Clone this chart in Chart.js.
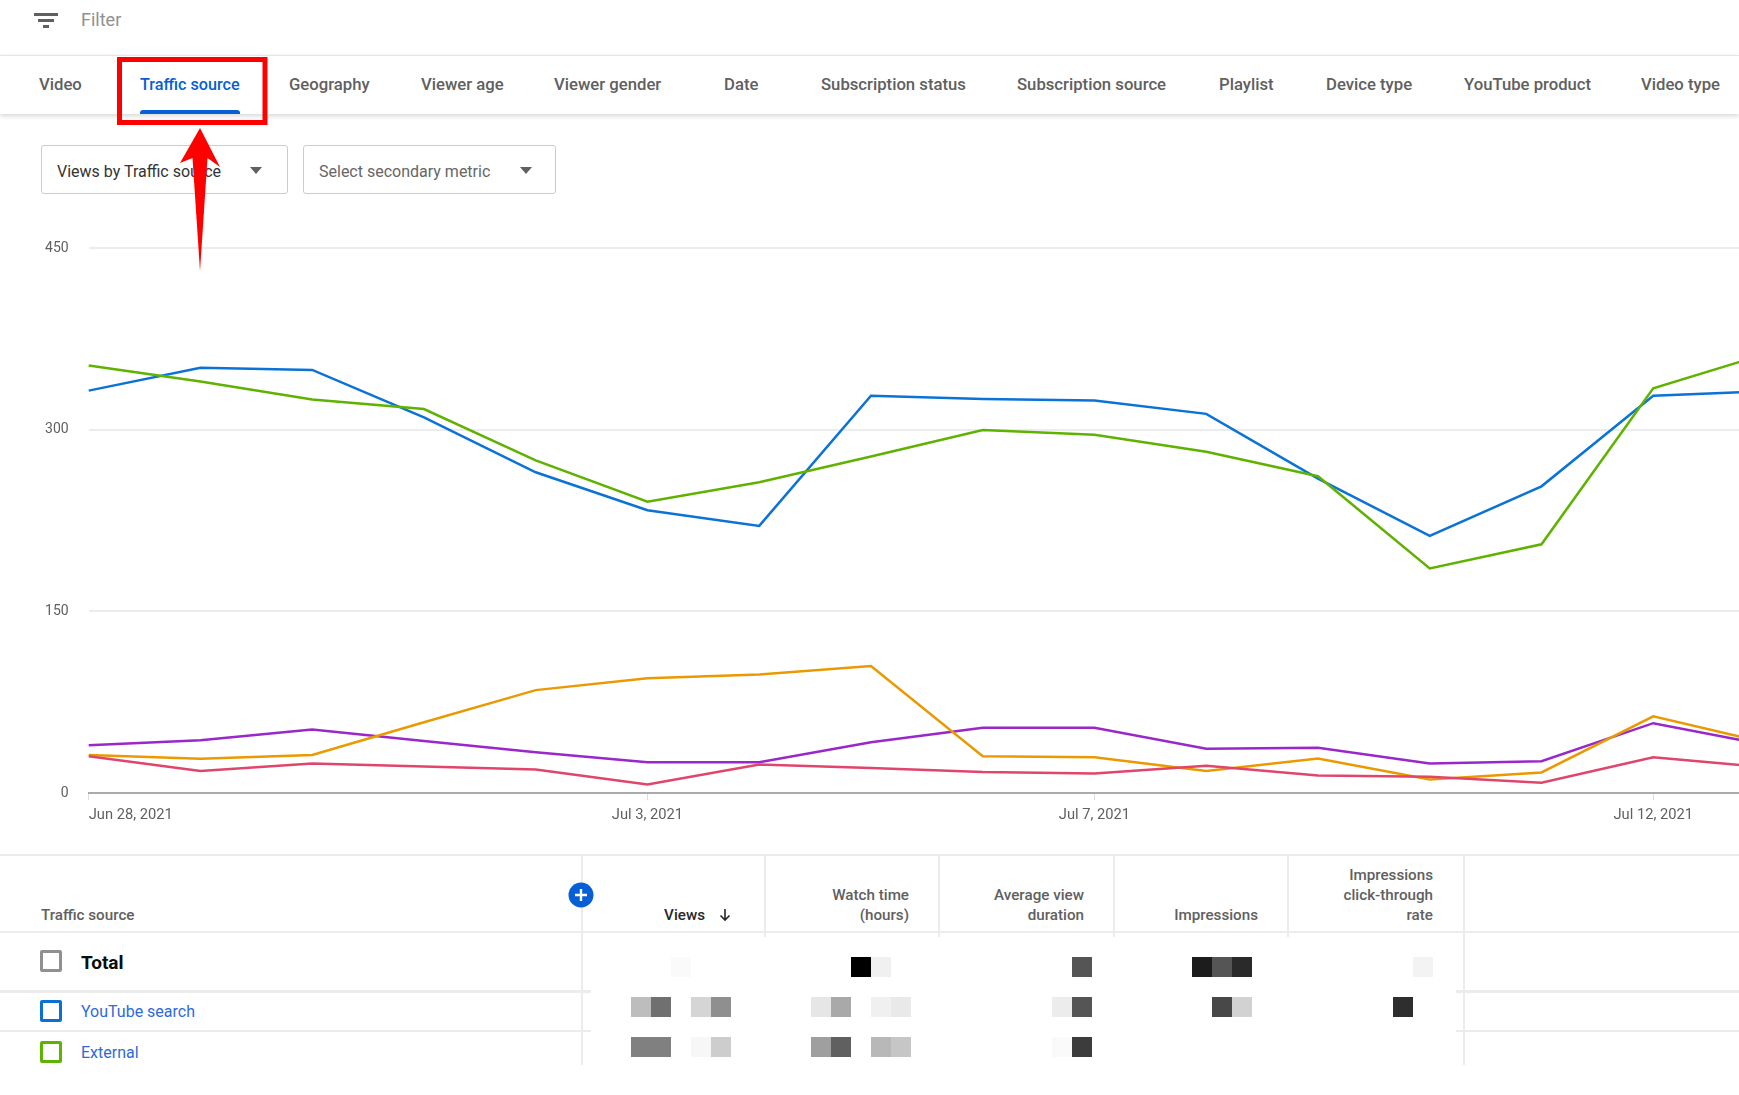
<!DOCTYPE html>
<html>
<head>
<meta charset="utf-8">
<title>Views by Traffic source</title>
<script src="https://cdn.jsdelivr.net/npm/chart.js@4"></script>
<style>
html, body { margin: 0; padding: 0; background: #fff; }
body { position: relative; width: 1739px; height: 1095px; overflow: hidden; font-family: Roboto, sans-serif; }
.abs { position: absolute; white-space: nowrap; }
.mid { transform: translateY(-50%); line-height: 20px; }
.tab { top: 85px; font-size: 16.7px; font-weight: 500; color: #606060; }
.tab.active { color: #065fd4; font-size: 16.2px; }
.select { left: 0; top: 145px; height: 47px; border: 1px solid #ccc; border-radius: 3px; box-sizing: content-box; }
.tri { width: 0; height: 0; border-left: 6px solid transparent; border-right: 6px solid transparent; border-top: 7px solid #606060; top: 167px; }
.hline { background: #ececec; height: 2px; }
.vline { background: #ececec; width: 2px; }
.head { font-size: 15.2px; font-weight: 500; color: #606060; text-align: right; }
.check { width: 22px; height: 22px; box-sizing: border-box; border: 3px solid #909090; border-radius: 2px; left: 40px; }
.link { left: 81px; font-size: 16px; color: #2e6ad9; }
.px { width: 20px; height: 20px; }
</style>
</head>
<body>

<div id="top"></div>

<div class="abs" style="left:0;top:0;width:1739px;height:220px" id="controls"></div>

<div class="abs" style="left:0;top:220px;width:1772px;height:613px">
    <canvas id="trafficChart" width="1772" height="613"></canvas>
</div>

<div id="table"></div>

<svg class="abs" style="left:0;top:0;pointer-events:none" width="400" height="290">
    <rect x="119.5" y="59.5" width="145.5" height="63" fill="none" stroke="#ff0000" stroke-width="5"/>
    <polygon points="200,128 220,167 207.5,158 200,271 192.5,158 180,163" fill="#ff0000"/>
</svg>

<script>
// Donnees du graphique
const categories = ['Jun 28, 2021', 'Jun 29, 2021', 'Jun 30, 2021', 'Jul 1, 2021', 'Jul 2, 2021', 'Jul 3, 2021', 'Jul 4, 2021', 'Jul 5, 2021',
    'Jul 6, 2021', 'Jul 7, 2021', 'Jul 8, 2021', 'Jul 9, 2021', 'Jul 10, 2021', 'Jul 11, 2021', 'Jul 12, 2021', 'Jul 13, 2021'];
const shownDates = ['Jun 28, 2021', 'Jul 3, 2021', 'Jul 7, 2021', 'Jul 12, 2021'];
const yTicks = [0, 150, 300, 450];

const youtubeSearch = [332.5, 351.4, 349.6, 310.3, 265, 233.7, 220.7, 328.2, 325.5, 324.4, 313.3, 259.7, 212.5, 253.4, 328.2, 332];
const external = [353.3, 340, 325.2, 317.3, 274.8, 240.7, 256.7, 278, 300, 296, 282, 261.8, 185.5, 205.5, 334.4, 362.6];
const sourceOrange = [31.4, 28.4, 31.4, 58.5, 85, 94.8, 98, 105, 30.3, 29.5, 18.1, 28.4, 11.1, 17, 63.4, 41.7];
const sourcePurple = [39.5, 43.6, 52.5, 43, 33.6, 25.5, 25.5, 42, 54, 54, 36.5, 37.4, 24.4, 26.3, 57.7, 39.8];
const sourcePink = [30.3, 18.1, 24.4, 21.9, 19.5, 7, 23.6, 20.6, 17.3, 16.2, 22.5, 14.4, 13.5, 8.4, 29.5, 21.3];

const tabLabels = ['Video', 'Traffic source', 'Geography', 'Viewer age', 'Viewer gender', 'Date', 'Subscription status',
    'Subscription source', 'Playlist', 'Device type', 'YouTube product', 'Video type'];
const tabLefts = [39, 140, 289, 421, 554, 724, 821, 1017, 1219, 1326, 1464, 1641];

function add(parent, className, style, text) {
    const el = document.createElement('div');
    el.className = className;
    el.style.cssText = style;
    if (text !== undefined) el.innerHTML = text;
    parent.appendChild(el);
    return el;
}

// Barre du haut et onglets
function buildHeader() {
    const top = document.getElementById('top');
    // icone filtre
    add(top, 'abs', 'left:34px;top:13px;width:24px;height:3px;background:#606060');
    add(top, 'abs', 'left:38px;top:19px;width:16px;height:3px;background:#606060');
    add(top, 'abs', 'left:43px;top:25px;width:6px;height:3px;background:#606060');
    add(top, 'abs mid', 'left:81px;top:20px;font-size:18px;color:#909090', 'Filter');

    add(top, 'abs', 'left:0;top:55px;width:1739px;height:59px;border-top:1px solid #e6e6e6;box-shadow:0 2px 5px rgba(0,0,0,.16);box-sizing:border-box;background:#fff');
    tabLabels.forEach(function(label, i) {
        const cls = 'abs mid tab' + (i === 1 ? ' active' : '');
        add(top, cls, 'left:' + tabLefts[i] + 'px', label);
    });
    add(top, 'abs', 'left:140px;top:110px;width:100px;height:4px;background:#065fd4;border-radius:3px 3px 0 0');

    const ctl = document.getElementById('controls');
    add(ctl, 'abs select', 'left:41px;width:245px');
    add(ctl, 'abs mid', 'left:57px;top:172px;font-size:16px;color:#333', 'Views by Traffic source');
    add(ctl, 'abs tri', 'left:250px');
    add(ctl, 'abs select', 'left:303px;width:251px');
    add(ctl, 'abs mid', 'left:319px;top:172px;font-size:16px;color:#666', 'Select secondary metric');
    add(ctl, 'abs tri', 'left:520px');
}

// Tableau sous le graphique
function buildTable() {
    const t = document.getElementById('table');
    add(t, 'abs hline', 'left:0;top:854px;width:1739px');
    add(t, 'abs hline', 'left:0;top:931px;width:1739px');
    add(t, 'abs hline', 'left:0;top:990px;width:591px;height:3px');
    add(t, 'abs hline', 'left:1456px;top:990px;width:283px;height:3px');
    add(t, 'abs hline', 'left:0;top:1030px;width:591px');
    add(t, 'abs hline', 'left:1456px;top:1030px;width:283px');
    [581, 1463].forEach(function(x) { add(t, 'abs vline', 'left:' + x + 'px;top:855px;height:210px'); });
    [764, 938, 1113, 1287].forEach(function(x) { add(t, 'abs vline', 'left:' + x + 'px;top:855px;height:82px'); });

    add(t, 'abs mid head', 'left:41px;top:915px', 'Traffic source');
    add(t, 'abs mid head', 'right:' + (1739 - 705) + 'px;top:915px;color:#282828', 'Views');
    add(t, 'abs mid head', 'right:' + (1739 - 909) + 'px;top:895px', 'Watch time');
    add(t, 'abs mid head', 'right:' + (1739 - 909) + 'px;top:915px', '(hours)');
    add(t, 'abs mid head', 'right:' + (1739 - 1084) + 'px;top:895px', 'Average view');
    add(t, 'abs mid head', 'right:' + (1739 - 1084) + 'px;top:915px', 'duration');
    add(t, 'abs mid head', 'right:' + (1739 - 1258) + 'px;top:915px', 'Impressions');
    add(t, 'abs mid head', 'right:' + (1739 - 1433) + 'px;top:875px', 'Impressions');
    add(t, 'abs mid head', 'right:' + (1739 - 1433) + 'px;top:895px', 'click-through');
    add(t, 'abs mid head', 'right:' + (1739 - 1433) + 'px;top:915px', 'rate');

    // fleche de tri
    const arrow = '<svg width="16" height="16" style="display:block"><path d="M8 2V13M3.5 8.5L8 13L12.5 8.5" fill="none" stroke="#282828" stroke-width="1.6"/></svg>';
    add(t, 'abs', 'left:717px;top:907px', arrow);
    // bouton plus
    const plus = '<svg width="26" height="26" style="display:block"><circle cx="13" cy="13" r="12.5" fill="#065fd4"/><path d="M13 7V19M7 13H19" stroke="#fff" stroke-width="2.4"/></svg>';
    add(t, 'abs', 'left:568px;top:882px', plus);

    add(t, 'abs check', 'top:950px');
    add(t, 'abs mid', 'left:81px;top:963px;font-size:19px;font-weight:700;color:#0d0d0d', 'Total');
    add(t, 'abs check', 'top:1000px;border-color:#0b6fd6');
    add(t, 'abs mid link', 'top:1012px', 'YouTube search');
    add(t, 'abs check', 'top:1041px;border-color:#5fb300');
    add(t, 'abs mid link', 'top:1053px', 'External');

    // cases floutees
    const rows = [
        [957, [[671, '#fafafa'], [851, '#000'], [871, '#f0f0f0'], [1072, '#555'], [1192, '#1c1c1c'], [1212, '#555'], [1232, '#2a2a2a'], [1413, '#f3f3f3']]],
        [997, [[631, '#bdbdbd'], [651, '#707070'], [691, '#d5d5d5'], [711, '#8f8f8f'], [811, '#e6e6e6'], [831, '#a9a9a9'], [871, '#f0f0f0'], [891, '#e9e9e9'], [1052, '#ececec'], [1072, '#555'], [1212, '#484848'], [1232, '#d2d2d2'], [1393, '#2e2e2e']]],
        [1037, [[631, '#808080'], [651, '#808080'], [691, '#f7f7f7'], [711, '#cdcdcd'], [811, '#9f9f9f'], [831, '#606060'], [871, '#b8b8b8'], [891, '#c6c6c6'], [1052, '#fafafa'], [1072, '#3c3c3c']]]
    ];
    rows.forEach(function(row) {
        row[1].forEach(function(cell) {
            add(t, 'abs px', 'left:' + cell[0] + 'px;top:' + row[0] + 'px;background:' + cell[1]);
        });
    });
}

// Graphique principal
function initTrafficChart() {
    const chartEl = document.getElementById('trafficChart');
    if (typeof Chart === 'undefined') {
        console.error('Chart.js n\'est pas charge');
        return;
    }

    function line(label, data, color) {
        return { label: label, data: data, borderColor: color, borderWidth: 2.5, pointRadius: 0, tension: 0, fill: false };
    }

    new Chart(chartEl, {
        type: 'line',
        data: {
            labels: categories,
            datasets: [
                line('Pink', sourcePink, '#e0456c'),
                line('Orange', sourceOrange, '#ea9a00'),
                line('Purple', sourcePurple, '#9a27c9'),
                line('External', external, '#5fb300'),
                line('YouTube search', youtubeSearch, '#0b72d6')
            ]
        },
        options: {
            responsive: false,
            animation: false,
            layout: { padding: { top: 10, right: 0, bottom: 0, left: 0 } },
            plugins: { legend: { display: false }, tooltip: { enabled: false } },
            scales: {
                x: {
                    afterFit: function(scale) { scale.height = 40; },
                    border: { color: '#aaaaaa', width: 2 },
                    grid: {
                        drawOnChartArea: false,
                        tickLength: 7,
                        tickColor: function(ctx) {
                            return shownDates.includes(categories[ctx.index]) ? '#dddddd' : 'rgba(0,0,0,0)';
                        }
                    },
                    ticks: {
                        autoSkip: false,
                        maxRotation: 0,
                        align: 'inner',
                        padding: 7,
                        color: '#606060',
                        font: { family: 'Roboto', size: 14.7 },
                        callback: function(value) {
                            const label = categories[value];
                            return shownDates.includes(label) ? label : '';
                        }
                    }
                },
                y: {
                    min: 0,
                    max: 450,
                    afterFit: function(scale) { scale.width = 88.7; },
                    afterBuildTicks: function(scale) {
                        scale.ticks = yTicks.map(function(v) { return { value: v }; });
                    },
                    border: { display: false },
                    grid: { color: '#ececec', lineWidth: 2, drawTicks: false },
                    ticks: {
                        padding: 20,
                        color: '#606060',
                        font: { family: 'Roboto', size: 14 }
                    }
                }
            }
        }
    });
}

document.addEventListener('DOMContentLoaded', function() {
    buildHeader();
    buildTable();
    initTrafficChart();
});
</script>
</body>
</html>
